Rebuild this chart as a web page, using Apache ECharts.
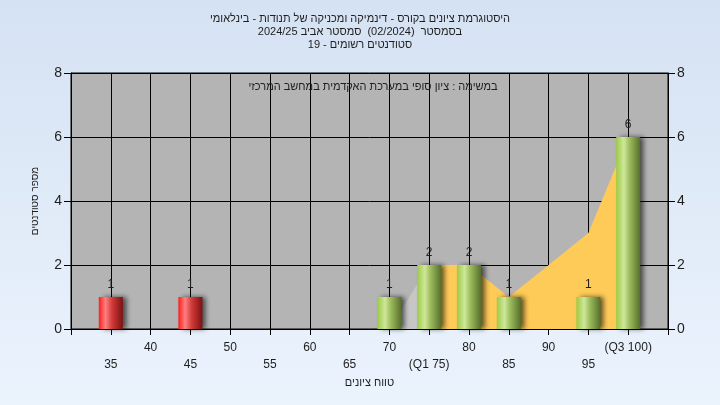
<!DOCTYPE html>
<html>
<head>
<meta charset="utf-8">
<script src="https://cdn.jsdelivr.net/npm/echarts@6/dist/echarts.min.js"></script>
<style>
html,body{margin:0;padding:0;}
#c{width:720px;height:405px;direction:rtl;}
</style>
</head>
<body>
<div id="c"></div>
<script>
const titleLines = [
  'היסטוגרמת ציונים בקורס - דינמיקה ומכניקה של תנודות - בינלאומי',
  'בסמסטר  (02/2024)  סמסטר אביב 2024/25',
  'סטודנטים רשומים - 19'
];
const subtitleText = 'במשימה : ציון סופי במערכת האקדמית במחשב המרכזי';
const xAxisName = 'טווח ציונים';
const yAxisName = 'מספר סטודנטים';

const categories = ['30','35','40','45','50','55','60','65','70','75','80','85','90','95','100','105'];
const tickLabels = ['', '35', '40', '45', '50', '55', '60', '65', '70', '(Q1 75)', '80', '85', '90', '95', '(Q3 100)', ''];
const counts = [0, 1, 0, 1, 0, 0, 0, 0, 1, 2, 2, 1, 0, 1, 6, 0];
const failingCategories = ['35', '45'];
const leadCurve = [null, null, null, null, null, null, null, null, 0, 2, null, null, null, null, null, null];
const iqrCurve  = [null, null, null, null, null, null, null, null, null, 2, 2, 1, 2, 3, 6, null];
const yTicks = [0, 2, 4, 6, 8];

const greenGrad = new echarts.graphic.LinearGradient(0, 0, 1, 0, [
  {offset: 0, color: '#9ccb45'},
  {offset: 0.32, color: '#cfe79a'},
  {offset: 0.55, color: '#9dbd5d'},
  {offset: 1, color: '#566f2c'}
]);
const redGrad = new echarts.graphic.LinearGradient(0, 0, 1, 0, [
  {offset: 0, color: '#ff1c1c'},
  {offset: 0.28, color: '#ff8080'},
  {offset: 0.55, color: '#d23a3a'},
  {offset: 1, color: '#7e1010'}
]);

const barData = counts.map((v, i) => ({
  value: v,
  itemStyle: { color: failingCategories.indexOf(categories[i]) >= 0 ? redGrad : greenGrad }
}));

const font = '"Liberation Sans", Arial, sans-serif';
const chart = echarts.init(document.getElementById('c'), null, {renderer: 'canvas'});
chart.setOption({
  animation: false,
  backgroundColor: new echarts.graphic.LinearGradient(0, 0, 0, 1, [
    {offset: 0, color: '#d5e2f3'},
    {offset: 1, color: '#ebf3fd'}
  ]),
  textStyle: {fontFamily: font},
  title: [
    {
      text: titleLines.join('\n'),
      left: 'center',
      top: 7,
      textStyle: {fontSize: 11, fontWeight: 'normal', color: '#1e1e1e', lineHeight: 13, fontFamily: font}
    },
    {
      text: subtitleText,
      left: 368,
      top: 76,
      textAlign: 'center',
      textStyle: {fontSize: 11, fontWeight: 'normal', color: '#1e1e1e', fontFamily: font}
    }
  ],
  grid: {
    left: 71, right: 52, top: 73, bottom: 76,
    show: true,
    backgroundColor: '#b4b4b4',
    borderColor: '#000',
    borderWidth: 1
  },
  xAxis: {
    type: 'category',
    data: categories,
    boundaryGap: false,
    name: xAxisName,
    nameLocation: 'middle',
    nameGap: 46,
    nameTextStyle: {fontSize: 11, color: '#1e1e1e', fontFamily: font},
    axisLine: {lineStyle: {color: '#000', width: 1}},
    axisTick: {show: true, length: 6, interval: 0, lineStyle: {color: '#000'}},
    splitLine: {show: true, interval: 0, lineStyle: {color: '#000', width: 1}},
    axisLabel: {
      interval: 0,
      margin: 10,
      fontSize: 12,
      lineHeight: 17,
      color: '#1e1e1e',
      fontFamily: font,
      formatter: function (v, i) {
        const t = tickLabels[i];
        return (i % 2 === 1) ? '\n' + t : t;
      }
    }
  },
  yAxis: [
    {
      type: 'value', min: 0, max: 8, interval: 2,
      name: yAxisName,
      nameLocation: 'middle',
      nameGap: 31,
      nameRotate: 90,
      nameTextStyle: {fontSize: 10, color: '#1e1e1e', fontFamily: font},
      axisLine: {show: true, lineStyle: {color: '#000'}},
      axisTick: {show: true, length: 7, lineStyle: {color: '#000'}},
      splitLine: {show: true, lineStyle: {color: '#000', width: 1}},
      axisLabel: {fontSize: 14, color: '#1e1e1e', margin: 9, fontFamily: font,
        formatter: v => yTicks.indexOf(v) >= 0 ? String(v) : ''}
    },
    {
      type: 'value', min: 0, max: 8, interval: 2, position: 'right',
      axisLine: {show: true, lineStyle: {color: '#000'}},
      axisTick: {show: true, length: 7, lineStyle: {color: '#000'}},
      splitLine: {show: false},
      axisLabel: {fontSize: 14, color: '#1e1e1e', margin: 9, fontFamily: font,
        formatter: v => yTicks.indexOf(v) >= 0 ? String(v) : ''}
    }
  ],
  series: [
    {
      type: 'line', data: leadCurve, symbol: 'none', z: 1,
      lineStyle: {width: 0}, areaStyle: {color: '#c6c6c6', opacity: 1}
    },
    {
      type: 'line', data: iqrCurve, symbol: 'none', z: 1,
      lineStyle: {width: 0}, areaStyle: {color: '#fecb58', opacity: 1}
    },
    {
      type: 'bar', data: barData, barWidth: 24, z: 3,
      itemStyle: {shadowColor: 'rgba(0,0,0,0.6)', shadowBlur: 5, shadowOffsetX: 4, shadowOffsetY: 0},
      label: {
        show: true, position: 'top', distance: 6, fontSize: 12, color: '#1e1e1e', fontFamily: font,
        formatter: p => p.value ? String(p.value) : ''
      }
    }
  ]
});
</script>
</body>
</html>
